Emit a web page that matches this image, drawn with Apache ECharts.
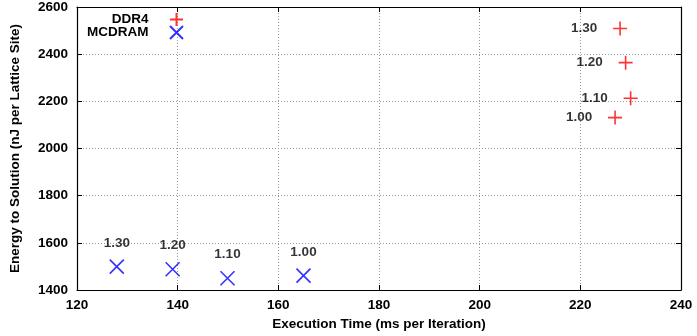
<!DOCTYPE html>
<html><head><meta charset="utf-8">
<script src="https://cdn.jsdelivr.net/npm/echarts@6/dist/echarts.min.js"></script>
<style>html,body{margin:0;padding:0;background:#fff}#c{width:697px;height:336px}</style>
</head><body><div id="c"></div>
<script>
const labels = ['1.30','1.20','1.10','1.00'];
const ddr4Time = [227.9, 229.0, 230.0, 226.9];
const ddr4Energy = [2509, 2364, 2213, 2131];
const mcdramTime = [127.9, 139.0, 149.9, 165.0];
const mcdramEnergy = [1499, 1488, 1450, 1461];
const xTicks = [120,140,160,180,200,220,240];
const yTicks = [1400,1600,1800,2000,2200,2400,2600];

const FONT = 'Liberation Sans';
const FS = 13.5;
const plusPath = 'path://M0,-1L0,1M-1,0L1,0';
const crossPath = 'path://M-1,-1L1,1M-1,1L1,-1';

function mk(xs, ys){ return xs.map((x,i)=>[x, ys[i], labels[i]]); }

const axisCommon = {
  axisLine:{show:true, onZero:false, lineStyle:{color:'#000', width:1.2}},
  axisTick:{show:true, inside:true, length:5, lineStyle:{color:'#000'}},
};
const chart = echarts.init(document.getElementById('c'), null, {renderer:'canvas'});
chart.setOption({
  animation:false,
  grid:{left:76, right:16, top:6, bottom:44, containLabel:false},
  legend:{
    orient:'vertical', align:'right', right:513, top:12, padding:0,
    itemWidth:14, itemHeight:13, itemGap:-2,
    textStyle:{fontFamily:FONT, fontWeight:'bold', fontSize:FS, color:'#000', lineHeight:13, padding:[0,16,0,0]},
    data:['DDR4','MCDRAM']
  },
  xAxis:[{
    type:'value', min:xTicks[0], max:xTicks[xTicks.length-1], interval:20, position:'bottom',
    ...axisCommon,
    axisLabel:{margin:8, fontFamily:FONT, fontWeight:'bold', fontSize:FS, color:'#000', formatter:v=>String(v)},
    splitLine:{show:true, lineStyle:{type:[1,2], color:'#999', width:1}},
    name:'Execution Time (ms per Iteration)', nameLocation:'middle', nameGap:27,
    nameTextStyle:{fontFamily:FONT, fontWeight:'bold', fontSize:FS, color:'#000'}
  },{
    type:'value', min:xTicks[0], max:xTicks[xTicks.length-1], interval:20, position:'top',
    ...axisCommon, axisLabel:{show:false}, splitLine:{show:false}
  }],
  yAxis:[{
    type:'value', min:yTicks[0], max:yTicks[yTicks.length-1], interval:200, position:'left',
    ...axisCommon,
    axisLabel:{margin:9, fontFamily:FONT, fontWeight:'bold', fontSize:FS, color:'#000', formatter:v=>String(v)},
    splitLine:{show:true, lineStyle:{type:[1,2], color:'#999', width:1}},
    name:'Energy to Solution (nJ per Lattice Site)', nameLocation:'middle', nameGap:55,
    nameTextStyle:{fontFamily:FONT, fontWeight:'bold', fontSize:FS, color:'#000'}
  },{
    type:'value', min:yTicks[0], max:yTicks[yTicks.length-1], interval:200, position:'right',
    ...axisCommon, axisLabel:{show:false}, splitLine:{show:false}
  }],
  series:[{
    name:'DDR4', type:'scatter', data:mk(ddr4Time, ddr4Energy),
    symbol:plusPath, symbolSize:14,
    itemStyle:{color:'rgba(0,0,0,0)', borderColor:'#ff0000', borderWidth:1.6},
    label:{show:true, position:'left', distance:15, formatter:p=>p.value[2],
      fontFamily:FONT, fontWeight:'bold', fontSize:FS, color:'#000'}
  },{
    name:'MCDRAM', type:'scatter', data:mk(mcdramTime, mcdramEnergy),
    symbol:crossPath, symbolSize:14,
    itemStyle:{color:'rgba(0,0,0,0)', borderColor:'#0000ff', borderWidth:1.6},
    label:{show:true, position:'top', distance:9, formatter:p=>p.value[2],
      fontFamily:FONT, fontWeight:'bold', fontSize:FS, color:'#000'}
  }]
});
</script></body></html>
